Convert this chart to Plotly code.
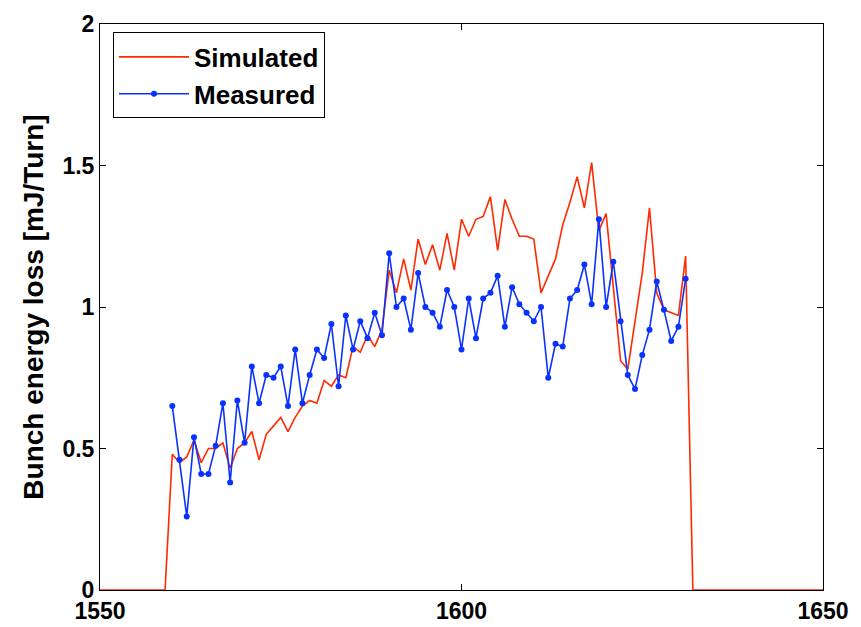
import plotly.graph_objects as go

# bunch numbers
x_sim = list(range(1550, 1651))
x_meas = list(range(1560, 1632))

sim_mid = [0.48, 0.45, 0.47, 0.53, 0.45, 0.50, 0.50, 0.52, 0.43, 0.50,
           0.52, 0.56, 0.46, 0.55, 0.58, 0.61, 0.56, 0.61, 0.65, 0.67,
           0.66, 0.74, 0.72, 0.76, 0.75, 0.86, 0.84, 0.90, 0.86, 0.92,
           1.13, 1.05, 1.17, 1.06, 1.24, 1.15, 1.22, 1.13, 1.26,
           1.13, 1.31, 1.25, 1.31, 1.32, 1.39, 1.20, 1.38, 1.31, 1.25,
           1.25, 1.24, 1.05, 1.11, 1.17, 1.29, 1.37, 1.46, 1.35, 1.51,
           1.27, 1.33, 1.08, 0.81, 0.78, 0.95, 1.12, 1.35, 1.05, 0.99,
           0.98, 0.97, 1.18]
simulated = [0.0] * 10 + sim_mid + [0.0] * 19

measured = [0.65, 0.46, 0.26, 0.54, 0.41, 0.41, 0.51, 0.66, 0.38, 0.67,
            0.52, 0.79, 0.66, 0.76, 0.75, 0.79, 0.65, 0.85, 0.66, 0.76,
            0.85, 0.82, 0.94, 0.72, 0.97, 0.85, 0.95, 0.89, 0.98, 0.90,
            1.19, 1.00, 1.03, 0.92, 1.12, 1.00, 0.98, 0.93, 1.06, 1.00,
            0.85, 1.03, 0.89, 1.03, 1.05, 1.11, 0.93, 1.07, 1.01, 0.98,
            0.95, 1.00, 0.75, 0.87, 0.86, 1.03, 1.06, 1.15, 1.01, 1.31,
            1.00, 1.16, 0.95, 0.76, 0.71, 0.83, 0.92, 1.09, 0.99, 0.88,
            0.93, 1.10]

fig = go.Figure()
fig.add_trace(go.Scatter(x=x_sim, y=simulated, mode='lines', name='Simulated',
                         line=dict(color='#ff2a00', width=1.6)))
fig.add_trace(go.Scatter(x=x_meas, y=measured, mode='lines+markers', name='Measured',
                         line=dict(color='#0a32ff', width=1.6),
                         marker=dict(size=6, color='#0a32ff')))

ax = dict(showgrid=False, zeroline=False, showline=True, linecolor='black',
          linewidth=1, mirror='ticks', ticks='inside', ticklen=6,
          tickcolor='black', automargin=False)
fig.update_layout(
    width=853, height=619,
    margin=dict(l=92, r=38, t=16, b=37),
    plot_bgcolor='white', paper_bgcolor='white',
    font=dict(family='Liberation Sans, Arial', size=23, color='black', weight='bold'),
    xaxis=dict(range=[1550, 1650], tickvals=[1550, 1600, 1650], **ax),
    yaxis=dict(range=[0, 2], tickvals=[0, 0.5, 1, 1.5, 2], ticktext=['0', '0.5', '1', '1.5', '2'],
               title=dict(text='Bunch energy loss [mJ/Turn]', standoff=10), **ax),
    legend=dict(x=0.018, y=0.985, xanchor='left', yanchor='top',
                bgcolor='white', bordercolor='black', borderwidth=1,
                font=dict(size=26), itemwidth=70),
)
fig.write_html("out.html")
